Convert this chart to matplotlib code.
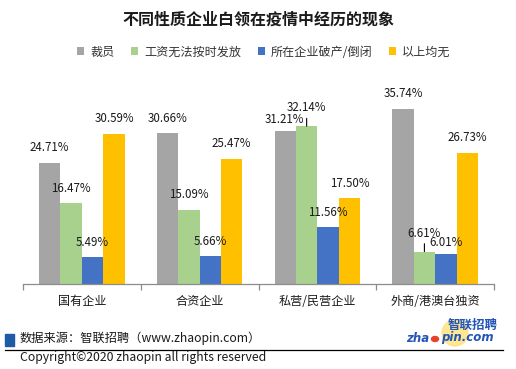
import matplotlib
matplotlib.use("Agg")
import matplotlib.pyplot as plt
from matplotlib.patches import Rectangle, Ellipse, Circle
from matplotlib.lines import Line2D
import numpy as np

plt.rcParams['font.family'] = ['Noto Sans CJK SC', 'DejaVu Sans']

categories = ['国有企业', '合资企业', '私营/民营企业', '外商/港澳台独资']
series_names = ['裁员', '工资无法按时发放', '所在企业破产/倒闭', '以上均无']
layoffs = [24.71, 30.66, 31.21, 35.74]
unpaid = [16.47, 15.09, 32.14, 6.61]
bankrupt = [5.49, 5.66, 11.56, 6.01]
none_above = [30.59, 25.47, 17.50, 26.73]
values = [layoffs, unpaid, bankrupt, none_above]
colors = ['#A5A5A5', '#A9D18E', '#4472C4', '#FFC000']

title = '不同性质企业白领在疫情中经历的现象'
source = '数据来源：智联招聘（www.zhaopin.com）'
copyright_text = 'Copyright©2020 zhaopin all rights reserved'

W, H = 516, 369
fig = plt.figure(figsize=(W / 100, H / 100), dpi=100)
ax = fig.add_axes([23 / W, 1 - 284 / H, (494 - 23) / W, (284 - 87.6) / H])

x = np.arange(len(categories))
bw = 0.182
handles = []
# label offsets in pixels (dx, dy) and leader flags
special = {(0, 2): (-1, 11, False), (1, 2): (0, 18.5, True),
           (1, 3): (0, 18.5, True), (2, 3): (0, 11.5, False)}
for i, (vals, c, name) in enumerate(zip(values, colors, series_names)):
    pos = x + (i - 1.5) * bw
    b = ax.bar(pos, vals, width=bw, color=c, label=name)
    handles.append(b)
    for j, (px, v) in enumerate(zip(pos, vals)):
        dx, dy, lead = special.get((i, j), (0, 15, False))
        kw = {}
        if lead:
            kw['arrowprops'] = dict(arrowstyle='-', color='black', lw=0.8,
                                    shrinkA=1, shrinkB=0)
        ax.annotate(f'{v:.2f}%', xy=(px, v), xytext=(dx, dy),
                    textcoords='offset pixels', ha='center', va='center',
                    fontsize=8.3, color='#1a1a1a', **kw)

ax.set_xlim(-0.5, 3.5)
ax.set_ylim(0, 40)
ax.set_yticks([])
for s in ['left', 'right', 'top']:
    ax.spines[s].set_visible(False)
ax.spines['bottom'].set_color('#8c8c8c')
ax.spines['bottom'].set_linewidth(0.9)
ax.set_xticks(np.arange(-0.5, 4, 1.0))
ax.set_xticklabels([])
ax.tick_params(axis='x', which='major', length=4, color='#8c8c8c', width=0.9)
ax.set_xticks(x, minor=True)
ax.set_xticklabels(categories, minor=True, fontsize=8.7, color='#1a1a1a')
ax.tick_params(axis='x', which='minor', length=0, pad=8)

fig.text(258 / W, 1 - 20 / H, title, ha='center', va='center',
         fontsize=11.5, fontweight='bold', color='#1a1a1a')

fig.legend(handles=handles, labels=series_names, loc='center',
           bbox_to_anchor=(264 / W, 1 - 52 / H), ncol=4, frameon=False,
           fontsize=8.7, handlelength=0.6, handleheight=0.6,
           handletextpad=0.5, columnspacing=1.35, labelcolor='#333333')

# footer
fig.patches.append(Rectangle((5 / W, 1 - 346 / H), 9 / W, 12 / H,
                             transform=fig.transFigure, color='#1F5AA6'))
fig.text(20 / W, 1 - 338 / H, source, ha='left', va='center',
         fontsize=8.8, color='#1a1a1a')
fig.lines.append(Line2D([5 / W, 503 / W], [1 - 350 / H, 1 - 350 / H],
                        transform=fig.transFigure, color='black', lw=0.9))
fig.text(20 / W, 1 - 358 / H, copyright_text, ha='left', va='center',
         fontsize=8.8, color='#1a1a1a')

# logo
fig.patches.append(Ellipse((455 / W, 1 - 333 / H), 26 / W, 26 / H,
                           transform=fig.transFigure, color='#FFE27A', alpha=0.8))
fig.text(473 / W, 1 - 325 / H, '智联招聘', ha='center', va='center',
         fontsize=9, fontweight='bold', style='italic', color='#2255B8')
fig.text(406 / W, 1 - 338 / H, 'zha', ha='left', va='center',
         fontsize=8.5, fontweight='bold', style='italic', color='#2255B8',
         family='DejaVu Sans')
fig.patches.append(Circle((435 / W, 1 - 339 / H), 3.5 / W,
                          transform=fig.transFigure, color='#E8412C'))
fig.text(441 / W, 1 - 338 / H, 'pin.com', ha='left', va='center',
         fontsize=8.5, fontweight='bold', style='italic', color='#2255B8',
         family='DejaVu Sans')

fig.savefig('out.png', dpi=100, facecolor='white')
